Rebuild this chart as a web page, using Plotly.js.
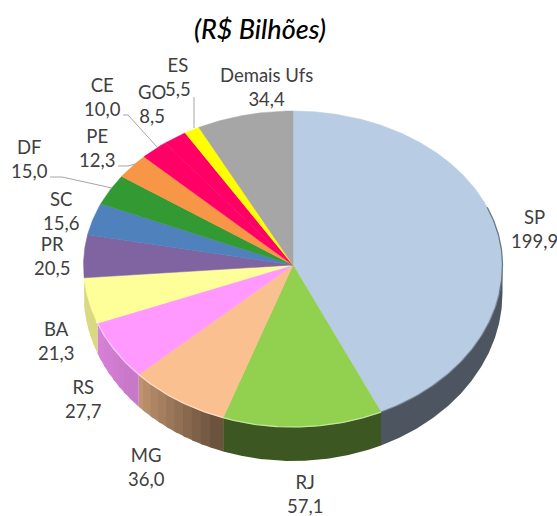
<!DOCTYPE html>
<html>
<head>
<meta charset="utf-8">
<script src="https://cdn.plot.ly/plotly-3.0.1.min.js"></script>
<style>html,body{margin:0;padding:0;background:#fff}#chart{width:557px;height:516px}</style>
</head>
<body>
<div id="chart"></div>
<script>
// ---- data, clockwise from 12 o'clock ----
const categories = ['SP','RJ','MG','RS','BA','PR','SC','DF','PE','CE','GO','ES','Demais Ufs'];
const values = [199.9,57.1,36.0,27.7,21.3,20.5,15.6,15.0,12.3,10.0,8.5,5.5,34.4];
const colors = ['#b8cce4','#92d050','#fac090','#ff99ff','#ffff99','#8064a2','#4f81bd','#339933','#f79646','#ff0066','#ff0066','#ffff00','#a6a6a6'];
const chartTitle = '(R$ Bilhões)';

// ---- label placement (centres, in axis units) ----
const labelX = [534,305,146,83,56,52,61,29,97,102,152,178,266];
const labelY = [229,494,467,399,341,256,211,159,148,97,104,77,87];

// ---- leader lines ----
const leaderX = [[50,62,112],[118,128,135],[123,128,157],[194,194]];
const leaderY = [[177,177,188],[166,166,164],[115,115,147],[97,128]];

// ---- drawing geometry: an oblique view of a disc ----
const cx = 293, cy = 265, rx = 209.5, ryBack = 154, ryFront = 162;
const total = values.reduce((a,b)=>a+b,0);
const rad = d => d*Math.PI/180;
const rimX = t => cx + rx*Math.sin(rad(t));
const rimY = t => { const c = Math.cos(rad(t)); return cy - c*(c<0?ryFront:ryBack); };
const depth = t => 28 + 6*Math.abs(Math.cos(rad(t)));

function rgb(hex){ return [1,3,5].map(i=>parseInt(hex.substr(i,2),16)); }
function mix(hex,f,toWhite){
  const c = rgb(hex).map(v=>Math.round(toWhite? v+(255-v)*f : v*f));
  return `rgb(${c[0]},${c[1]},${c[2]})`;
}
// wall brightness by angle around the disc
function wallShade(t){
  const stops = [[0,.42],[200,.42],[227,.78],[250,.85],[360,.85]];
  for(let i=1;i<stops.length;i++){
    if(t<=stops[i][0]){
      const [a,fa]=stops[i-1],[b,fb]=stops[i];
      return fa+(fb-fa)*(t-a)/(b-a);
    }
  }
  return .85;
}

const bounds = [0];
values.forEach(v=>bounds.push(bounds[bounds.length-1]+v/total*360));

const arc = (a,b,step) => { const out=[]; const n=Math.max(1,Math.ceil((b-a)/step)); for(let i=0;i<=n;i++) out.push(a+(b-a)*i/n); return out; };
const base = {type:'scatter',mode:'lines',hoverinfo:'skip',showlegend:false};
const traces = [];

// front wall: each slice is a set of bands, each band a smooth curved patch
// laid over the next so no seam shows
values.forEach((v,i)=>{
  const a = Math.max(bounds[i],90), b = Math.min(bounds[i+1],265.2);
  if(b<=a) return;
  const bandWidth = (wallShade(a)===wallShade(b)) ? 360 : 3;
  const ts = arc(a,b,bandWidth);
  for(let k=ts.length-2;k>=0;k--){
    const s=ts[k], e=Math.min(ts[k+1]+(k===ts.length-2?0:1),b), col=mix(colors[i],wallShade((s+ts[k+1])/2));
    const pts = arc(s,e,.5);
    traces.push({...base,fill:'toself',fillcolor:col,line:{width:0},
      x:[...pts.map(rimX),...pts.slice().reverse().map(rimX)],
      y:[...pts.map(t=>rimY(t)-1),...pts.slice().reverse().map(t=>rimY(t)+depth(t))]});
  }
});

// top face
values.forEach((v,i)=>{
  const ts = arc(bounds[i],bounds[i+1],.5);
  traces.push({...base,name:categories[i],hoverinfo:'name',fill:'toself',fillcolor:colors[i],
    line:{color:colors[i],width:.5},
    x:[cx,...ts.map(rimX),cx], y:[cy,...ts.map(rimY),cy]});
});

// lit bevel along the front rim, dark edge on the blue slice
values.forEach((v,i)=>{
  const a = Math.max(bounds[i],100), b = Math.min(bounds[i+1],250);
  if(b<=a) return;
  const ts = arc(a,b,.5);
  const col = i===0 ? 'rgba(100,115,130,.6)' : mix(colors[i],.45,true);
  traces.push({...base,line:{color:col,width:1.3},x:ts.map(rimX),y:ts.map(rimY)});
});
{
  const ts = arc(68,100,.5);
  traces.push({...base,line:{color:'rgba(85,98,110,.8)',width:1.3},x:ts.map(rimX),y:ts.map(rimY)});
}

// leaders
leaderX.forEach((xs,i)=>traces.push({...base,line:{color:'#a6a6a6',width:1},x:xs,y:leaderY[i]}));

const fontFam = 'Lato, Carlito, Calibri, sans-serif';
const annotations = categories.map((c,i)=>({
  x:labelX[i], y:labelY[i], xref:'x', yref:'y', showarrow:false, xanchor:'center', yanchor:'middle',
  text:c+'<br>'+values[i].toFixed(1).replace('.',','),
  align:'center', font:{family:fontFam,size:18.5,color:'#404040'}
}));

const layout = {
  width:557,height:516,margin:{l:0,r:0,t:0,b:0},
  paper_bgcolor:'#fff',plot_bgcolor:'#fff',showlegend:false,
  title:{text:'<i>'+chartTitle+'</i>',x:260/557,xanchor:'center',y:1-30/516,yanchor:'middle',
    font:{family:fontFam,size:27,color:'#000',weight:500}},
  xaxis:{range:[0,557],visible:false,fixedrange:true},
  yaxis:{range:[516,0],visible:false,fixedrange:true},
  annotations
};
Plotly.newPlot('chart',traces,layout,{displayModeBar:false,staticPlot:true});
</script>
</body>
</html>
